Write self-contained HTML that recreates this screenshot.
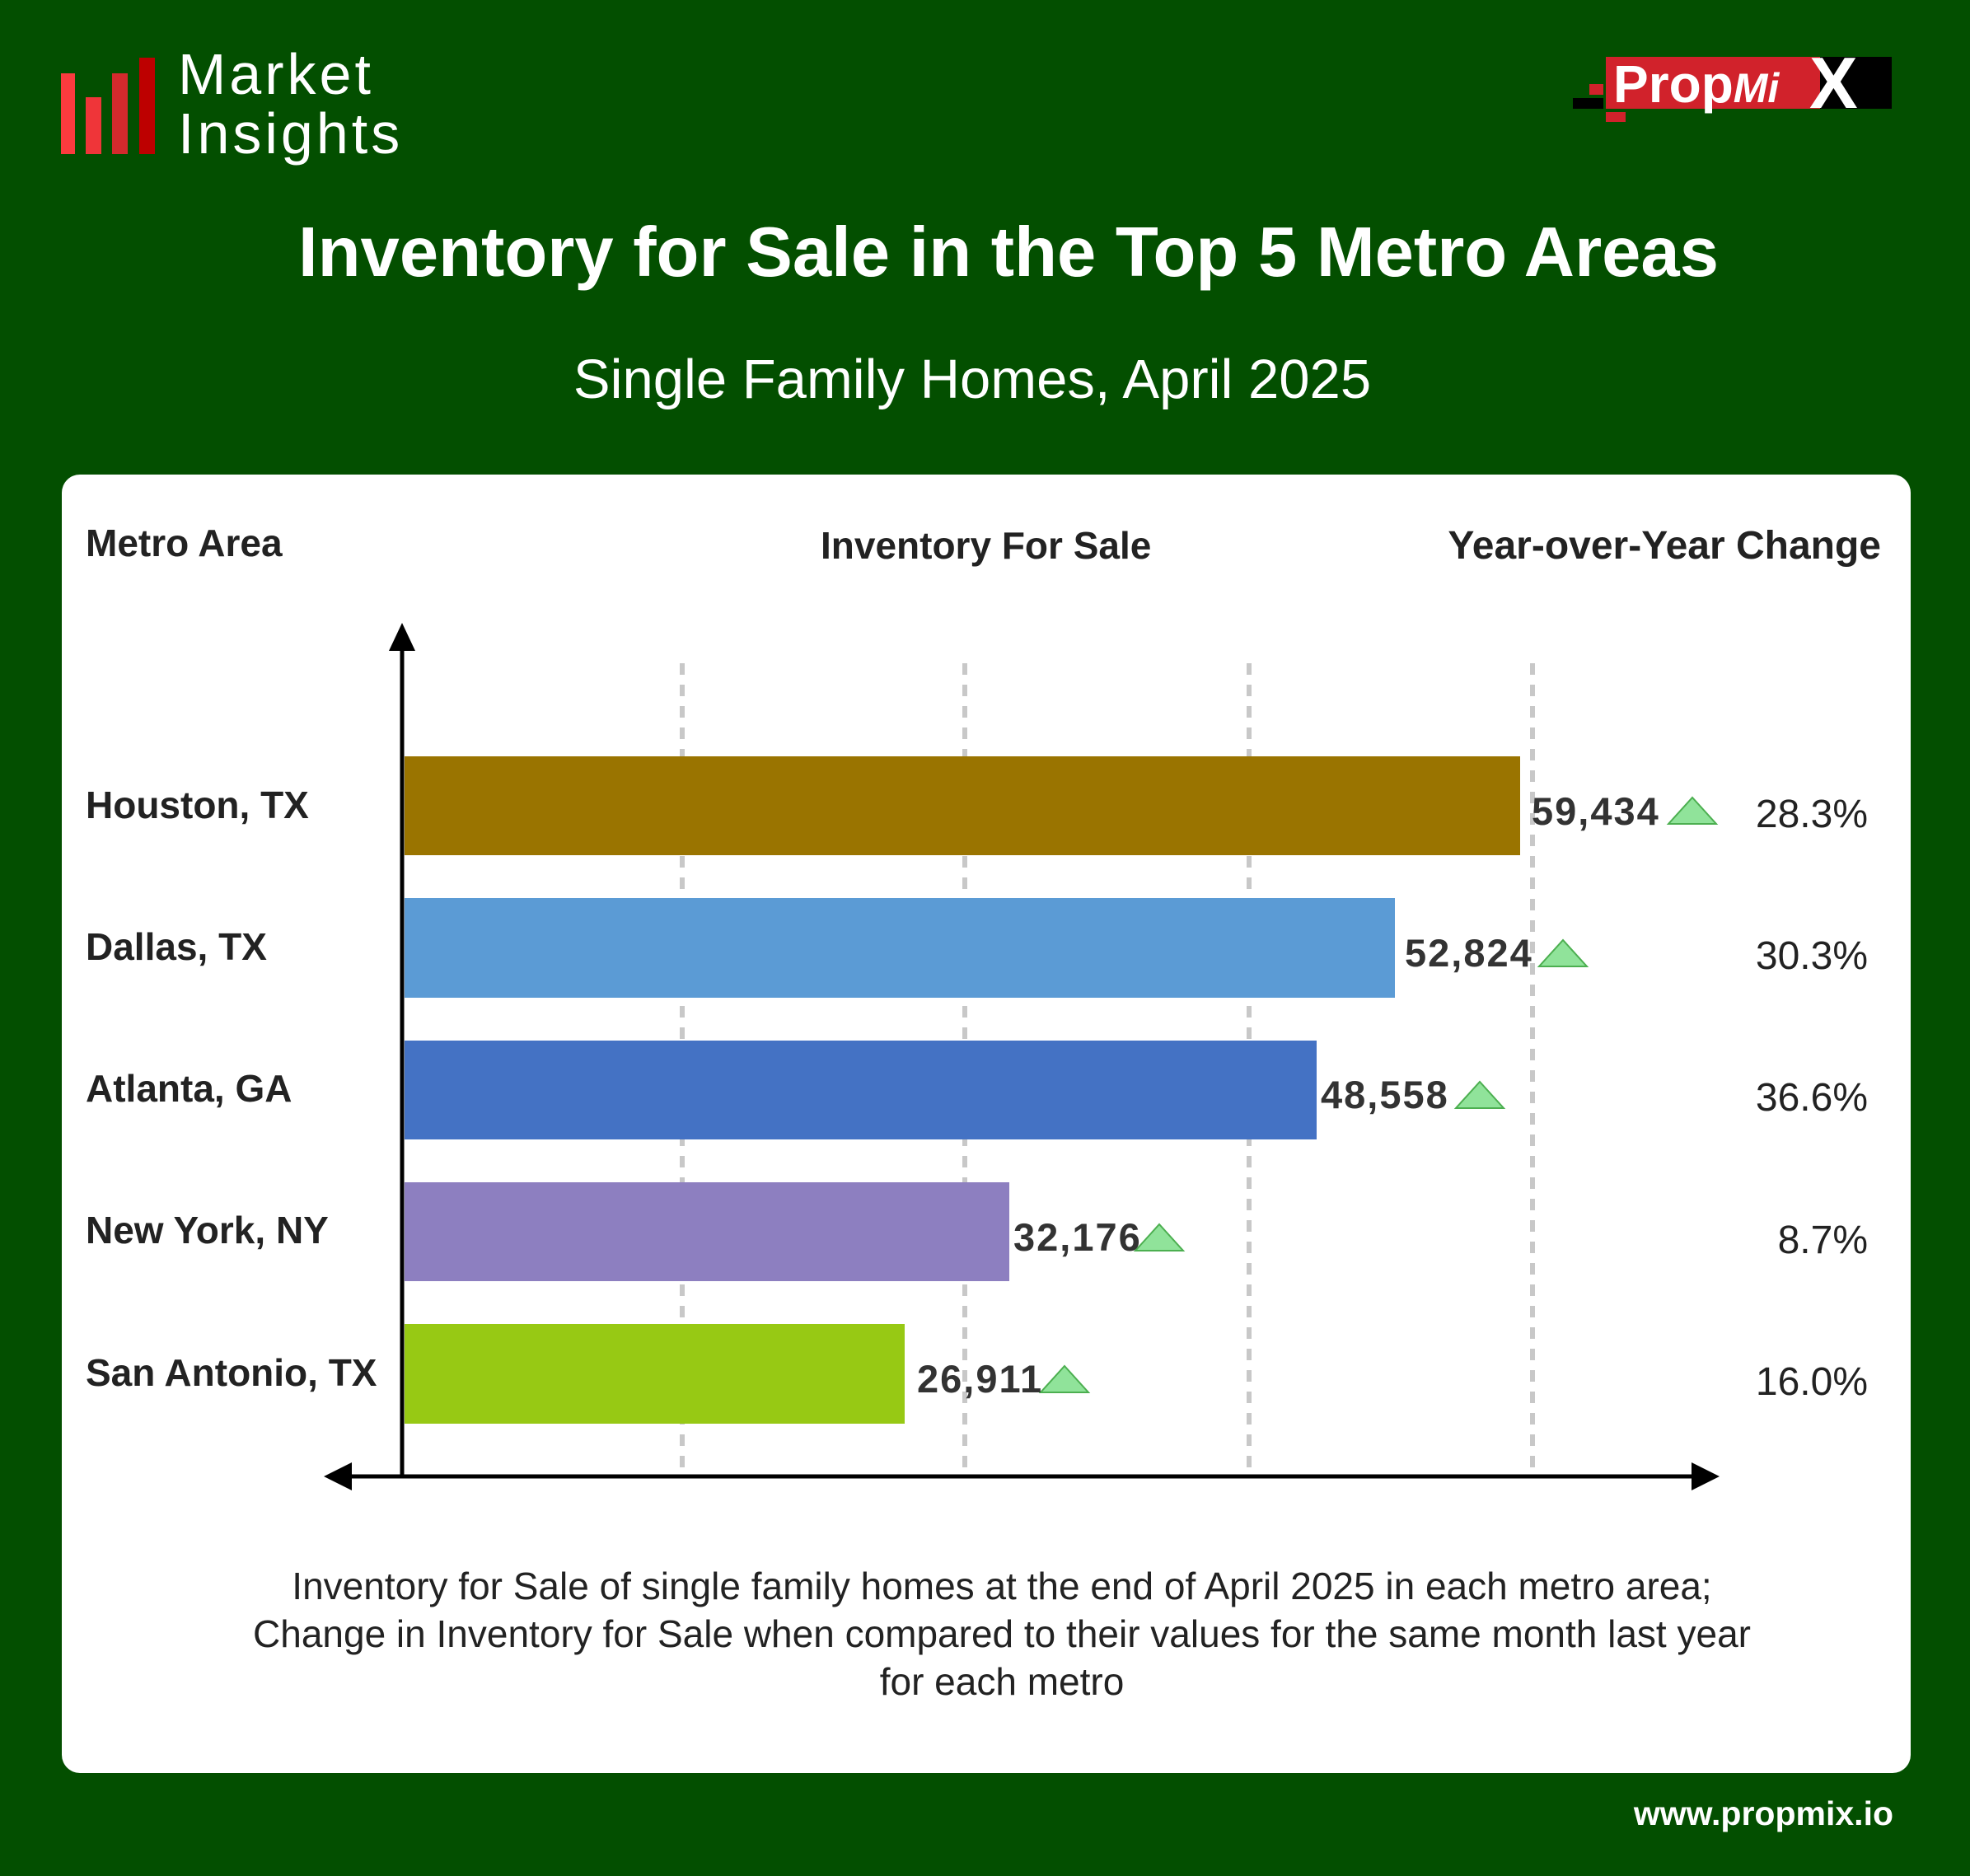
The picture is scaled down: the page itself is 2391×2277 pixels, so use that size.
<!DOCTYPE html>
<html><head><meta charset="utf-8"><style>
html,body{margin:0;padding:0;}
body{width:2391px;height:2277px;background:#034f00;position:relative;overflow:hidden;font-family:"Liberation Sans",sans-serif;}
.a{position:absolute;white-space:nowrap;}
.card{position:absolute;left:75px;top:576px;width:2244px;height:1576px;background:#fff;border-radius:22px;overflow:hidden;}
.lbl{position:absolute;font-size:46px;font-weight:bold;color:#222;}
.val{position:absolute;font-size:47px;font-weight:bold;color:#333;letter-spacing:2px;}
.pct{position:absolute;font-size:48px;color:#222;text-align:right;}
</style></head><body>
<div class="a" style="left:74px;top:89px;width:17px;height:98px;background:#fb3b3e"></div>
<div class="a" style="left:104px;top:118px;width:19px;height:69px;background:#ef3539"></div>
<div class="a" style="left:136px;top:89px;width:19px;height:98px;background:#d42a2d"></div>
<div class="a" style="left:169px;top:70px;width:19px;height:117px;background:#bd0000"></div>
<div class="a" style="left:216px;top:54px;font-size:70px;color:#fff;line-height:72px;letter-spacing:4px">Market<br>Insights</div>
<div class="a" style="left:1949px;top:69px;width:260px;height:63px;background:#d1222b"></div>
<div class="a" style="left:2209px;top:69px;width:87px;height:63px;background:#000"></div>
<div class="a" style="left:1929px;top:102px;width:17px;height:13px;background:#d1222b"></div>
<div class="a" style="left:1909px;top:119px;width:37px;height:13px;background:#000"></div>
<div class="a" style="left:1949px;top:136px;width:24px;height:12px;background:#d1222b"></div>
<div class="a" style="left:1958px;top:62px;font-size:64px;font-weight:bold;color:#fff;line-height:80px">Prop<i style="font-size:50px">Mi</i></div>
<div class="a" style="left:2196px;top:56px;font-size:88px;font-weight:bold;color:#fff;line-height:90px">X</div>
<div class="a" style="left:0;width:2448px;text-align:center;top:258px;font-size:85px;font-weight:bold;color:#fff">Inventory for Sale in the Top 5 Metro Areas</div>
<div class="a" style="left:0;width:2360px;text-align:center;top:422px;font-size:67px;color:#fff">Single Family Homes, April 2025</div>
<div class="card">
<svg width="2244" height="1576" style="position:absolute;left:0;top:0">
<g stroke="#c8c8c8" stroke-width="6" stroke-dasharray="14,12">
<line x1="753" y1="229" x2="753" y2="1208"/>
<line x1="1096" y1="229" x2="1096" y2="1208"/>
<line x1="1441" y1="229" x2="1441" y2="1208"/>
<line x1="1785" y1="229" x2="1785" y2="1208"/>
</g>
<rect x="416" y="342" width="1354" height="120" fill="#9a7400"/>
<rect x="416" y="514" width="1202" height="121" fill="#5b9bd5"/>
<rect x="416" y="687" width="1107" height="120" fill="#4472c4"/>
<rect x="416" y="859" width="734" height="120" fill="#8d7fc0"/>
<rect x="416" y="1031" width="607" height="121" fill="#97c914"/>
<line x1="413" y1="200" x2="413" y2="1216" stroke="#000" stroke-width="5"/>
<polygon points="413,180 397,214 429,214" fill="#000"/>
<line x1="345" y1="1216" x2="1985" y2="1216" stroke="#000" stroke-width="5"/>
<polygon points="318,1216 352,1199 352,1233" fill="#000"/>
<polygon points="2012,1216 1978,1199 1978,1233" fill="#000"/>
<g fill="#90e39a" stroke="#4caf50" stroke-width="2">
<polygon points="1950,424 2008,424 1979,392"/>
<polygon points="1793,597 1851,597 1822,565"/>
<polygon points="1692,769 1750,769 1721,737"/>
<polygon points="1303,942 1361,942 1332,910"/>
<polygon points="1188,1114 1246,1114 1217,1082"/>
</g>
</svg>
<div class="a" style="left:29px;top:56px;font-size:46px;font-weight:bold;color:#222">Metro Area</div>
<div class="a" style="left:921px;top:59px;font-size:46px;font-weight:bold;color:#222">Inventory For Sale</div>
<div class="a" style="right:36px;top:59px;font-size:48px;font-weight:bold;color:#222">Year-over-Year Change</div>
<div class="lbl" style="left:29px;top:374px">Houston, TX</div>
<div class="lbl" style="left:29px;top:546px">Dallas, TX</div>
<div class="lbl" style="left:29px;top:718px">Atlanta, GA</div>
<div class="lbl" style="left:29px;top:890px">New York, NY</div>
<div class="lbl" style="left:29px;top:1063px">San Antonio, TX</div>
<div class="val" style="left:1784px;top:381px">59,434</div>
<div class="val" style="left:1630px;top:553px">52,824</div>
<div class="val" style="left:1528px;top:725px">48,558</div>
<div class="val" style="left:1155px;top:898px">32,176</div>
<div class="val" style="left:1038px;top:1070px">26,911</div>
<div class="pct" style="right:52px;top:385px">28.3%</div>
<div class="pct" style="right:52px;top:557px">30.3%</div>
<div class="pct" style="right:52px;top:729px">36.6%</div>
<div class="pct" style="right:52px;top:902px">8.7%</div>
<div class="pct" style="right:52px;top:1074px">16.0%</div>
<div class="a" style="left:0;width:2282px;text-align:center;top:1320px;font-size:46px;line-height:58px;color:#222">Inventory for Sale of single family homes at the end of April 2025 in each metro area;<br>Change in Inventory for Sale when compared to their values for the same month last year<br>for each metro</div>
</div>
<div class="a" style="right:93px;top:2178px;font-size:41px;font-weight:bold;color:#fff">www.propmix.io</div>
</body></html>
